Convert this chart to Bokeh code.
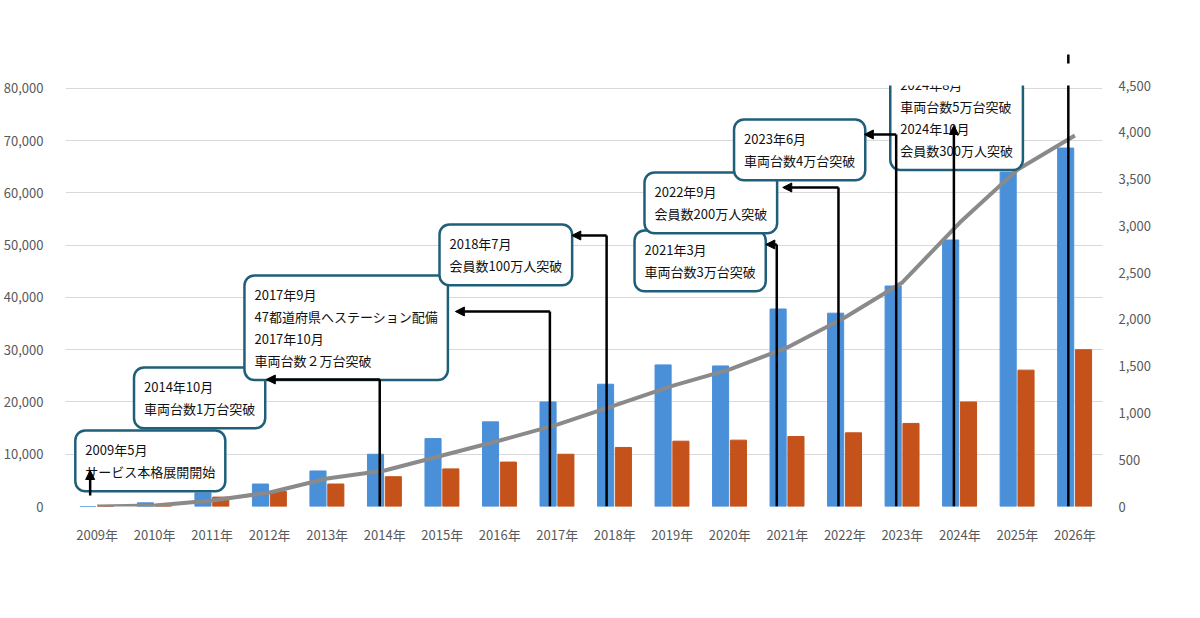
from bokeh.plotting import figure
from bokeh.models import (Range1d, LinearAxis, FixedTicker, NumeralTickFormatter, Label, Arrow,
                          NormalHead, Legend, LegendItem, ColumnDataSource)
from bokeh.embed import file_html
from bokeh.resources import INLINE

years = ["2009年", "2010年", "2011年", "2012年", "2013年", "2014年", "2015年", "2016年", "2017年",
         "2018年", "2019年", "2020年", "2021年", "2022年", "2023年", "2024年", "2025年", "2026年"]
vehicles = [0, 700, 2600, 4300, 6800, 10000, 13000, 16200, 20000, 23400, 27100, 26900, 37800,
            37000, 42200, 51000, 64000, 68600]
stations = [0, 200, 1800, 2900, 4300, 5700, 7200, 8500, 10000, 11300, 12500, 12700, 13400,
            14100, 15900, 20000, 26100, 30000]
members = [0, 10, 65, 150, 300, 385, 545, 705, 875, 1080, 1290, 1465, 1700, 2020, 2395,
           3035, 3600, 3965]
title_text = "車両台数・ステーション数・会員数推移"
note_text = "※各年10月末時点、2026年のみ7月末時点"

FONT = "Noto Sans CJK JP"
GRAY = "#595959"

# page pixel -> data helpers (layout only)
def dx(px):
    return (px - 100) / 57.8

def dy(py):
    return (514 - py) * 191.4

x = list(range(len(years)))
src = ColumnDataSource(dict(x=x, xb=[i - 0.16 for i in x], xo=[i + 0.15 for i in x],
                            v=vehicles, s=stations, m=members))

p = figure(width=1184, height=600, output_backend="svg", toolbar_location=None,
           x_range=Range1d(-0.55, 17.48), y_range=Range1d(0, 80574),
           min_border_left=60, min_border_right=82, min_border_top=85, min_border_bottom=94)
p.extra_y_ranges = {"r": Range1d(0, 4500)}
p.outline_line_color = None
p.xgrid.grid_line_color = None
p.ygrid.grid_line_color = "#d9d9d9"
p.ygrid.ticker = FixedTicker(ticks=list(range(0, 80001, 10000)))

p.yaxis.ticker = FixedTicker(ticks=list(range(0, 80001, 10000)))
p.yaxis.formatter = NumeralTickFormatter(format="0,0")
ra = LinearAxis(y_range_name="r", ticker=FixedTicker(ticks=list(range(0, 4501, 500))),
                formatter=NumeralTickFormatter(format="0,0"))
p.add_layout(ra, "right")
p.xaxis.ticker = FixedTicker(ticks=x)
p.xaxis.major_label_overrides = {i: y for i, y in enumerate(years)}
for ax in [p.xaxis[0], p.yaxis[0], ra]:
    ax.axis_line_color = None
    ax.major_tick_line_color = None
    ax.minor_tick_line_color = None
    ax.major_label_text_color = GRAY
    ax.major_label_text_font = FONT
    ax.major_label_text_font_size = "13px"
p.yaxis[0].major_label_standoff = 16
ra.major_label_standoff = 10
p.xaxis[0].major_label_standoff = 12

rb = p.vbar(x="xb", top="v", width=0.28, source=src, color="#4a90d9")
ro = p.vbar(x="xo", top="s", width=0.28, source=src, color="#c4521a")
rl = p.line(x="x", y="m", source=src, y_range_name="r", line_color="#8a8a8a", line_width=4)

legend = Legend(items=[LegendItem(label="車両台数(台)", renderers=[rb]),
                       LegendItem(label="ステーション数(カ所)", renderers=[ro]),
                       LegendItem(label="会員数(千人)", renderers=[rl])],
                orientation="horizontal", location=(294, -56), border_line_color=None,
                label_text_font=FONT, label_text_font_size="13px", label_text_color=GRAY,
                glyph_width=30, glyph_height=10, spacing=20, padding=0, margin=0,
                background_fill_alpha=0)
p.add_layout(legend)

p.add_layout(Label(x=dx(510), y=dy(42), text=title_text, text_align="center",
                   text_baseline="middle", text_font=FONT, text_font_size="15px",
                   text_font_style="bold", text_color=GRAY))
p.add_layout(Label(x=dx(1100), y=dy(590), text=note_text, text_align="right",
                   text_baseline="middle", text_font=FONT, text_font_size="11px",
                   text_color=GRAY))

# annotations: (text, box left px, box top px, red?)
notes = [
    ("2009年5月\nサービス本格展開開始", 66, 428, False),
    ("2014年10月\n車両台数1万台突破", 125, 365, False),
    ("2017年9月\n47都道府県へステーション配備\n2017年10月\n車両台数２万台突破", 236, 273, False),
    ("2018年7月\n会員数100万人突破", 432, 222, False),
    ("2021年3月\n車両台数3万台突破", 628, 228, False),
    ("2022年9月\n会員数200万人突破", 638, 170, False),
    ("2023年6月\n車両台数4万台突破", 728, 117, False),
    ("2024年8月\n車両台数5万台突破\n2024年10月\n会員数300万人突破", 885, 63, False),
    ("2026年7月\n会員数400万人突破", 971, 2, True),
]
for t, bx, by, red in notes:
    p.add_layout(Label(x=dx(bx), y=dy(by), text=t, text_align="left", text_baseline="top",
                       x_offset=12, y_offset=-10, padding=10,
                       text_font=FONT, text_font_size="13px",
                       text_color="#e8000b" if red else "#111111",
                       text_font_style="bold" if red else "normal", text_line_height=1.15,
                       background_fill_color="white", border_line_color="#1f5f7a",
                       border_line_width=2.5, border_radius=10))

# connectors: (vertical x px, bottom px, top px, horizontal end px or None)
conns = [(93, 503, 478, None), (384, 514, 387, 270), (555, 514, 319, 460), (612, 514, 243, 577),
         (783, 514, 252, 772), (845, 514, 195, 789), (903, 514, 142, 871), (961, 514, 133, None),
         (1076, 514, 62, None)]
for vx, yb, yt, hx in conns:
    if hx is None:
        p.add_layout(Arrow(x_start=dx(vx), y_start=dy(yb), x_end=dx(vx), y_end=dy(yt),
                           line_width=2.5, line_color="black",
                           end=NormalHead(size=9, fill_color="black", line_color="black")))
    else:
        p.add_layout(Arrow(x_start=dx(vx), y_start=dy(yb), x_end=dx(vx), y_end=dy(yt),
                           line_width=2.5, line_color="black", end=None))
        p.add_layout(Arrow(x_start=dx(vx), y_start=dy(yt), x_end=dx(hx), y_end=dy(yt),
                           line_width=2.5, line_color="black",
                           end=NormalHead(size=9, fill_color="black", line_color="black")))

open("out.html", "w").write(file_html(p, INLINE))
